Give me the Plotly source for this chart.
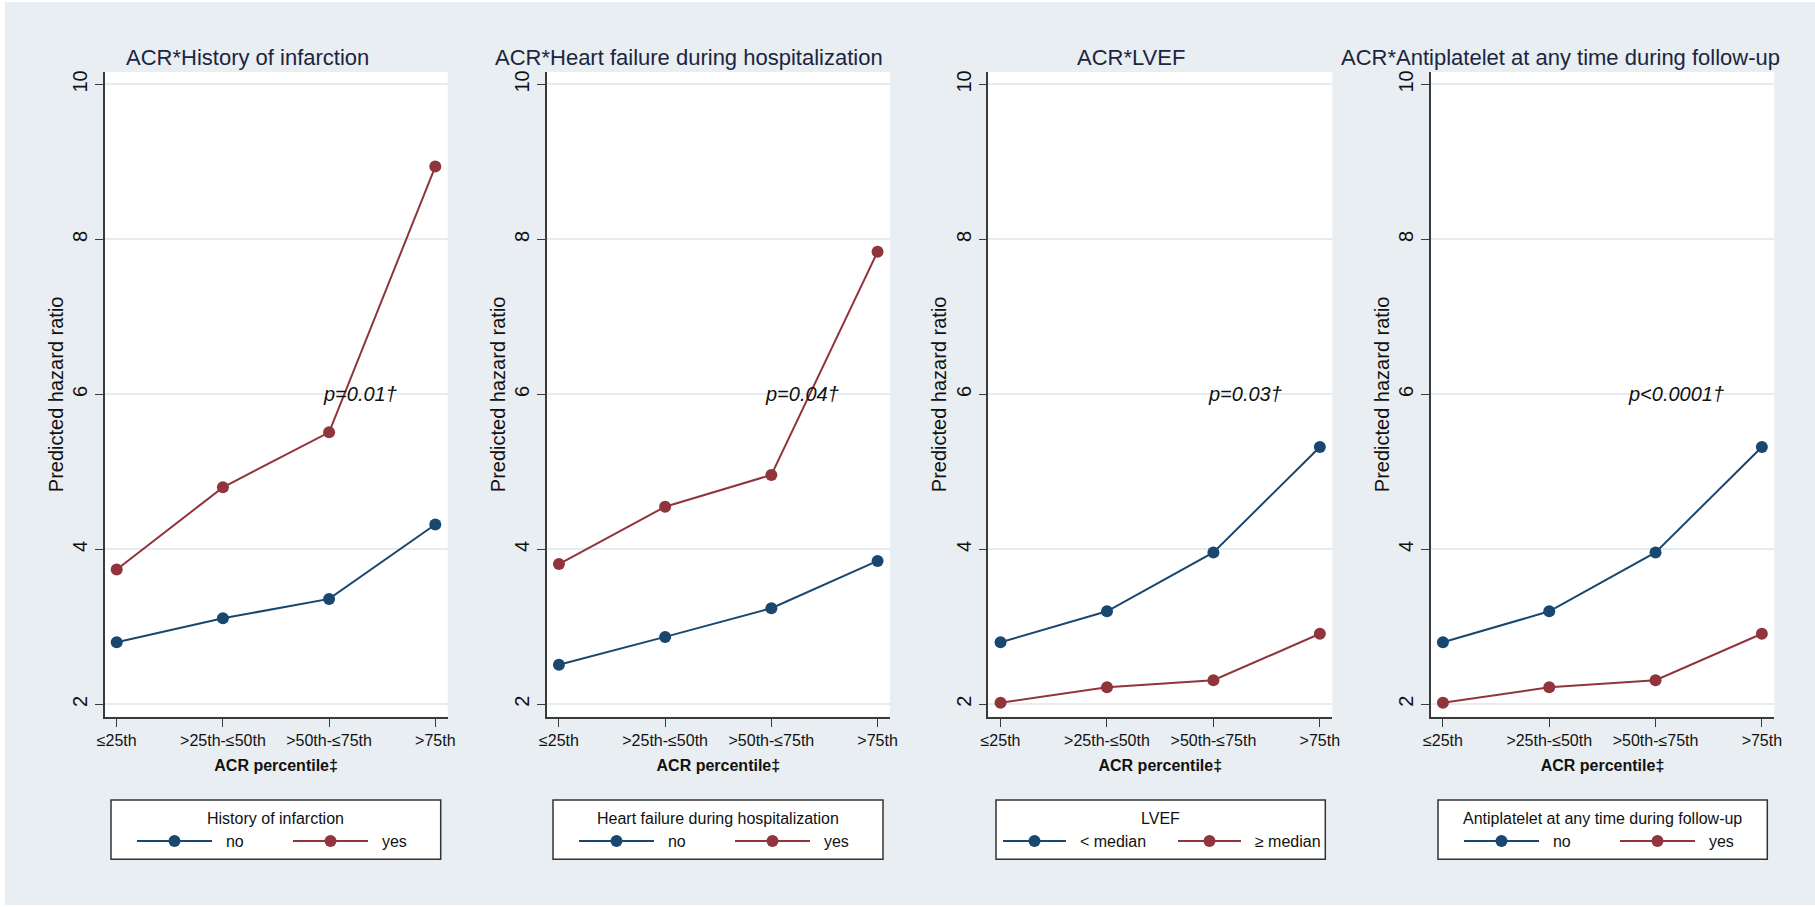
import plotly.graph_objects as go

# ACR percentile categories shared by all four panels
categories = ["≤25th", ">25th-≤50th", ">50th-≤75th", ">75th"]

# Predicted hazard ratios per panel and modifier level
infarction_no = [2.80, 3.11, 3.36, 4.32]
infarction_yes = [3.74, 4.80, 5.51, 8.94]
hf_no = [2.51, 2.87, 3.24, 3.85]
hf_yes = [3.81, 4.55, 4.96, 7.84]
lvef_below = [2.80, 3.20, 3.96, 5.32]
lvef_above = [2.02, 2.22, 2.31, 2.91]
antiplatelet_no = [2.80, 3.20, 3.96, 5.32]
antiplatelet_yes = [2.02, 2.22, 2.31, 2.91]

panel_titles = [
    "ACR*History of infarction",
    "ACR*Heart failure during hospitalization",
    "ACR*LVEF",
    "ACR*Antiplatelet at any time during follow-up",
]
legend_titles = [
    "History of infarction",
    "Heart failure during hospitalization",
    "LVEF",
    "Antiplatelet at any time during follow-up",
]
level_labels = [
    ["no", "yes"],
    ["no", "yes"],
    ["&lt; median", "≥ median"],
    ["no", "yes"],
]
p_values = ["p=0.01†", "p=0.04†", "p=0.03†", "p&lt;0.0001†"]
series = [
    (infarction_no, infarction_yes),
    (hf_no, hf_yes),
    (lvef_below, lvef_above),
    (antiplatelet_no, antiplatelet_yes),
]
y_ticks = [2, 4, 6, 8, 10]

W, H = 1815, 907
NAVY = "#1a476f"
MAROON = "#90353b"
BG = "#e8eef1"
FONT = "Liberation Sans, Arial, sans-serif"
GAP = "\u00a0\u00a0"  # extra room between legend symbol and label

# pixel extents of each plot region
panel_px = [(104.5, 447.7), (546.7, 890.0), (988.3, 1332.3), (1430.7, 1774.3)]
top_px, bottom_px = 72.0, 716.7
# legend boxes (left, right) in pixels, shared top/bottom
legend_px = [(111.0, 440.7), (553.0, 883.0), (996.0, 1325.3), (1438.0, 1767.3)]
leg_top, leg_bottom, leg_title_y, leg_row_y = 800.0, 859.3, 818.0, 841.0
# per-legend entry geometry: (offset of first symbol from box left, symbol width, entry text width)
legend_entry = [(21, 75, 66), (21, 75, 66), (2, 63, 97), (21, 75, 66)]


def px_x(v):
    return v / W


def px_y(v):
    return 1 - v / H


fig = go.Figure()
layout = dict(
    width=W,
    height=H,
    margin=dict(l=0, r=0, t=0, b=0, autoexpand=False),
    paper_bgcolor=BG,
    plot_bgcolor="white",
    font=dict(family=FONT, color="#111111"),
    showlegend=True,
    annotations=[],
    shapes=[
        # thin white border strips around the graph region
        dict(type="rect", xref="paper", yref="paper", x0=0, x1=1, y0=px_y(2), y1=1,
             fillcolor="white", line=dict(width=0), layer="below"),
        dict(type="rect", xref="paper", yref="paper", x0=0, x1=px_x(5), y0=0, y1=1,
             fillcolor="white", line=dict(width=0), layer="below"),
        dict(type="rect", xref="paper", yref="paper", x0=0, x1=1, y0=0, y1=px_y(905),
             fillcolor="white", line=dict(width=0), layer="below"),
    ],
)

for i in range(4):
    n = "" if i == 0 else str(i + 1)
    xa, ya = "x" + n, "y" + n
    lg = "legend" + n
    left, right = panel_px[i]
    lo, hi = series[i]
    for vals, color, name in ((lo, NAVY, level_labels[i][0]), (hi, MAROON, level_labels[i][1])):
        fig.add_trace(go.Scatter(
            x=categories, y=vals, name=GAP + name, mode="lines+markers",
            line=dict(color=color, width=2),
            marker=dict(color=color, size=12),
            xaxis=xa, yaxis=ya, legend=lg,
        ))

    layout["xaxis" + n] = dict(
        domain=[px_x(left), px_x(right)], anchor=ya,
        type="category", range=[-0.115, 3.117],
        showgrid=False, zeroline=False,
        showline=True, linecolor="#3a3a3a", linewidth=1.6,
        ticks="outside", ticklen=8, tickwidth=1.4, tickcolor="#3a3a3a",
        tickfont=dict(size=16, color="#111111"),
        title=dict(text="<b>ACR percentile‡</b>", font=dict(size=16, color="#111111"), standoff=12),
    )
    layout["yaxis" + n] = dict(
        domain=[px_y(bottom_px), px_y(top_px)], anchor=xa,
        range=[1.84, 10.16],
        tickvals=y_ticks, ticktext=[str(v) for v in y_ticks],
        tickangle=-90,
        showgrid=True, gridcolor="#e3ecf0", gridwidth=1.6,
        zeroline=False,
        showline=True, linecolor="#3a3a3a", linewidth=1.6,
        ticks="outside", ticklen=8, tickwidth=1.4, tickcolor="#3a3a3a",
        tickfont=dict(size=20, color="#111111"),
        title=dict(text="Predicted hazard ratio", font=dict(size=20, color="#111111"), standoff=0),
    )

    # legend: framed box with a centred heading and one row of entries
    bl, br = legend_px[i]
    offset, sym_w, text_w = legend_entry[i]
    layout["shapes"].append(dict(
        type="rect", xref="paper", yref="paper",
        x0=px_x(bl), x1=px_x(br), y0=px_y(leg_bottom), y1=px_y(leg_top),
        fillcolor="white", line=dict(color="#333333", width=1.5), layer="below",
    ))
    layout["annotations"].append(dict(
        text=legend_titles[i], xref="paper", yref="paper",
        x=px_x((bl + br) / 2), y=px_y(leg_title_y), xanchor="center", yanchor="middle",
        showarrow=False, font=dict(size=16, color="#111111"),
    ))
    layout[lg] = dict(
        x=px_x(bl + offset), xanchor="left",
        y=px_y(leg_row_y), yanchor="middle",
        orientation="h",
        bgcolor="rgba(0,0,0,0)", borderwidth=0,
        font=dict(size=16, color="#111111"),
        entrywidth=text_w, itemwidth=sym_w,
    )

    # panel title, centred a little left of the plot region
    title_cx = (left + right) / 2 - 29
    layout["annotations"].append(dict(
        text=panel_titles[i], xref="paper", yref="paper",
        x=px_x(title_cx) if i < 3 else px_x(1782), y=px_y(57),
        xanchor="center" if i < 3 else "right", yanchor="middle",
        showarrow=False, font=dict(size=22, color="#1c2541"),
    ))
    # interaction p-value
    layout["annotations"].append(dict(
        text="<i>" + p_values[i] + "</i>", xref=xa, yref=ya,
        x=2.66, y=6, xanchor="right", yanchor="middle",
        showarrow=False, font=dict(size=20, color="#111111"),
    ))

fig.update_layout(**layout)
fig.write_html("out.html")
